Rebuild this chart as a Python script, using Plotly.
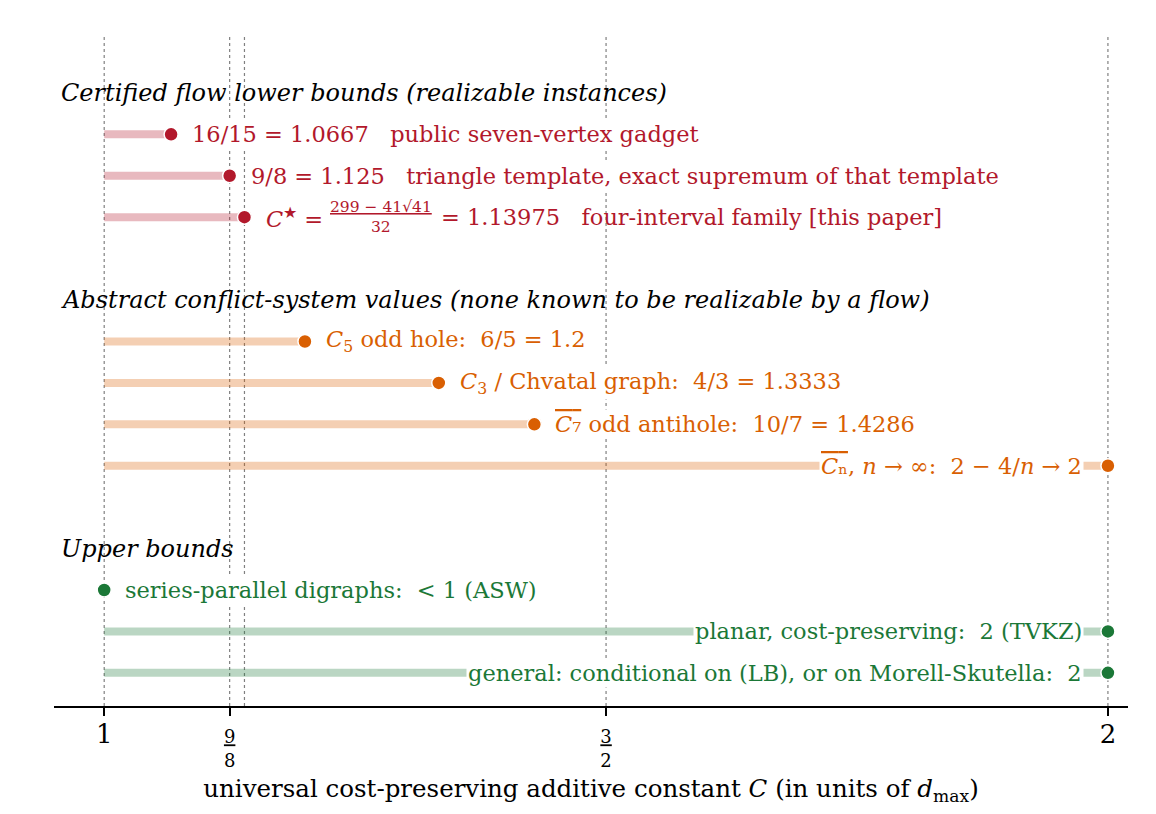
import plotly.graph_objects as go

C_STAR = (299 - 41 * 41 ** 0.5) / 32
NB = "\u00a0"

# certified flow lower bounds (realizable instances)
lb_values = [16 / 15, 9 / 8, C_STAR]
lb_labels = [
    "16/15 = 1.0667" + NB * 3 + "public seven-vertex gadget",
    "9/8 = 1.125" + NB * 3 + "triangle template, exact supremum of that template",
    None,  # drawn as a stacked fraction below
]

# abstract conflict-system values
cs_values = [6 / 5, 4 / 3, 10 / 7, 2]
cs_labels = [
    "<i>C</i><sub>5</sub> odd hole:" + NB * 2 + "6/5 = 1.2",
    "<i>C</i><sub>3</sub> / Chvatal graph:" + NB * 2 + "4/3 = 1.3333",
    "<span style='text-decoration:overline'><i>C</i>₇</span> odd antihole:" + NB * 2 + "10/7 = 1.4286",
    "<span style='text-decoration:overline'><i>C</i>ₙ</span>, <i>n</i> → ∞:" + NB * 2 + "2 − 4/<i>n</i> → 2",
]

# upper bounds
ub_values = [1, 2, 2]
ub_labels = [
    "series-parallel digraphs:" + NB * 2 + "&lt; 1 (ASW)",
    "planar, cost-preserving:" + NB * 2 + "2 (TVKZ)",
    "general: conditional on (LB), or on Morell-Skutella:" + NB * 2 + "2",
]

ref_lines = [1, 9 / 8, C_STAR, 3 / 2, 2]
tick_vals = [1, 9 / 8, 3 / 2, 2]
tick_text = [
    "<span style='font-size:26px'>1</span>",
    "<u>9</u><br>8",
    "<u>3</u><br>2",
    "<span style='font-size:26px'>2</span>",
]

groups = [
    ("Certified flow lower bounds (realizable instances)", lb_values, lb_labels, "#b2182b", "rgba(178,24,43,0.3)"),
    ("Abstract conflict-system values (none known to be realizable by a flow)", cs_values, cs_labels, "#d95f02", "rgba(217,95,2,0.3)"),
    ("Upper bounds", ub_values, ub_labels, "#1b7837", "rgba(27,120,55,0.3)"),
]

FONT = "DejaVu Serif"
LABEL_SIZE = 22.5
fig = go.Figure()
annotations = []

row = -1
for header, values, labels, dark, light in groups:
    annotations.append(dict(x=0.955, y=row, text="<i>" + header + "</i>", showarrow=False,
                            xanchor="left", font=dict(size=24, color="black")))
    ys = []
    for v, lab in zip(values, labels):
        row += 1
        ys.append(row)
        if lab is None:
            continue
        if v >= 2:
            annotations.append(dict(x=v, y=row, text=lab, showarrow=False, xanchor="right",
                                    xshift=-24, bgcolor="white", borderpad=1,
                                    font=dict(size=LABEL_SIZE, color=dark)))
        else:
            annotations.append(dict(x=v, y=row, text=lab, showarrow=False, xanchor="left",
                                    xshift=19, bgcolor="white", borderpad=1,
                                    font=dict(size=LABEL_SIZE, color=dark)))
    # bars from C = 1 to each value
    bx, by = [], []
    for v, y in zip(values, ys):
        if v > 1:
            bx += [1, v, None]
            by += [y, y, None]
    fig.add_trace(go.Scatter(x=bx, y=by, mode="lines", line=dict(color=light, width=8),
                             hoverinfo="skip", showlegend=False))
    fig.add_trace(go.Scatter(x=values, y=ys, mode="markers",
                             marker=dict(color=dark, size=14, line=dict(color="white", width=1.5)),
                             showlegend=False))
    row += 2

# C* label with a stacked fraction
c_row = 2
red = groups[0][3]
annotations += [
    dict(x=C_STAR, y=c_row, text="<i>C</i><sup>★</sup> =", showarrow=False, xanchor="left",
         xshift=20, font=dict(size=LABEL_SIZE, color=red)),
    dict(x=C_STAR, y=c_row, text="<u>299 − 41√41</u><br>32", showarrow=False, xanchor="center",
         xshift=137, font=dict(size=15.5, color=red)),
    dict(x=C_STAR, y=c_row, text="= 1.13975" + NB * 3 + "four-interval family [this paper]",
         showarrow=False, xanchor="left", xshift=195, font=dict(size=LABEL_SIZE, color=red)),
]

shapes = [dict(type="line", xref="x", yref="paper", x0=v, x1=v, y0=0, y1=1, layer="below",
               line=dict(color="gray", width=1.2, dash="dot")) for v in ref_lines]

fig.update_layout(
    width=1156, height=814,
    margin=dict(l=46, r=36, t=29, b=116),
    paper_bgcolor="white", plot_bgcolor="white",
    font=dict(family=FONT, size=22, color="black"),
    annotations=annotations, shapes=shapes,
    xaxis=dict(range=[0.95, 2.02], tickvals=tick_vals, ticktext=tick_text,
               tickfont=dict(size=18), showgrid=False, zeroline=False,
               showline=True, linecolor="black", linewidth=1.5,
               ticks="outside", ticklen=8, tickwidth=1.5, tickcolor="black",
               ticklabelstandoff=6,
               title=dict(text="universal cost-preserving additive constant <i>C</i> (in units of <i>d</i><sub>max</sub>)",
                          font=dict(size=24.5), standoff=10)),
    yaxis=dict(range=[13.8, -2.35], visible=False),
)

fig.write_html("out.html")
